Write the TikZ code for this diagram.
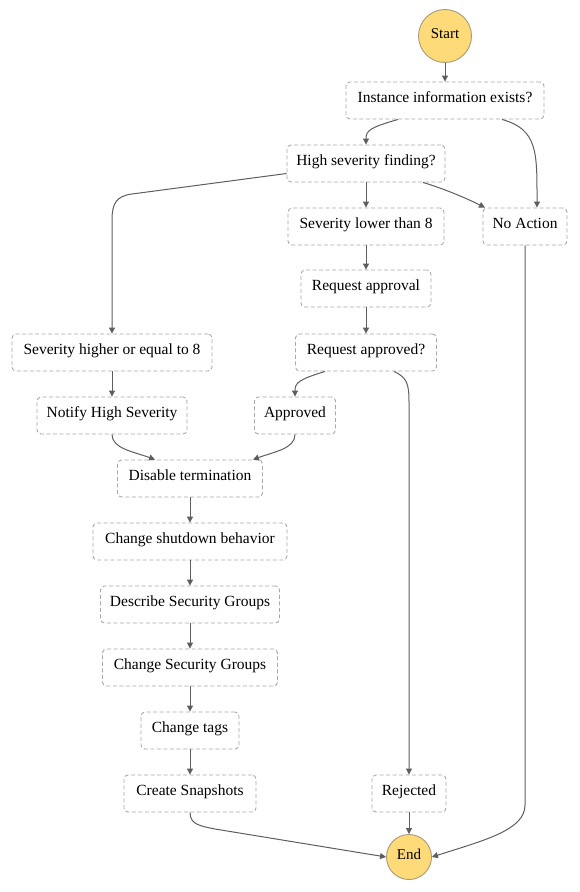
\documentclass[tikz,border=0pt]{standalone}
\usepackage{fontspec}
\setmainfont{Liberation Serif}
\usetikzlibrary{arrows.meta}
\definecolor{boxgray}{HTML}{A8A8A8}
\definecolor{linegray}{HTML}{5E5E5E}
\definecolor{termfill}{HTML}{FFDA78}
\definecolor{termborder}{HTML}{A8997A}
\begin{document}
\begin{tikzpicture}[x=1pt,y=-1pt,
  box/.style={draw=boxgray, line width=0.9pt, dash pattern=on 4pt off 2.5pt, rounded corners=4pt,
    minimum height=37pt, inner sep=0pt, text height=10pt, text depth=7pt, fill=white,
    font=\fontsize{15.5}{18}\selectfont},
  term/.style={circle, draw=termborder, line width=0.9pt, fill=termfill, inner sep=0pt,
    text height=10pt, text depth=5pt, font=\fontsize{15}{18}\selectfont},
  conn/.style={draw=linegray, line width=1pt, -{Triangle[length=6pt,width=6pt]}}]
\useasboundingbox (0,0) rectangle (579,892);

\node[term, minimum size=53pt] (start) at (445,36) {Start};
\node[box, minimum width=198pt] (inst) at (445,100.5) {Instance information exists?};
\node[box, minimum width=158pt] (hs) at (366,163.5) {High severity finding?};
\node[box, minimum width=156pt] (slt) at (366,226.5) {Severity lower than 8};
\node[box, minimum width=84pt] (na) at (525,226.5) {No Action};
\node[box, minimum width=130pt] (ra) at (366,288.5) {Request approval};
\node[box, minimum width=141pt] (rq) at (366,352.5) {Request approved?};
\node[box, minimum width=200pt] (sh) at (112,352.5) {Severity higher or equal to 8};
\node[box, minimum width=150pt] (nh) at (112,415.5) {Notify High Severity};
\node[box, minimum width=81pt] (ap) at (295,415.5) {Approved};
\node[box, minimum width=145pt] (dt) at (190,478.5) {Disable termination};
\node[box, minimum width=194pt] (cs) at (190,541.5) {Change shutdown behavior};
\node[box, minimum width=179pt] (ds) at (190,604.5) {Describe Security Groups};
\node[box, minimum width=175pt] (cg) at (190,667.5) {Change Security Groups};
\node[box, minimum width=98pt] (ct) at (190,730.5) {Change tags};
\node[box, minimum width=132pt] (sn) at (190,793.5) {Create Snapshots};
\node[box, minimum width=74pt] (rj) at (409,793.5) {Rejected};
\node[term, minimum size=45pt] (end) at (409,857) {End};

\coordinate (b1) at (132,194);
\coordinate (b2) at (112,220);
\coordinate (b3) at (409,402);
\coordinate (b4) at (525,805);
\coordinate (b5) at (215,829);

\draw[conn] (start) -- (inst);
\draw[conn] ([shift={(-47,0)}]inst.south) .. controls +(-28,8) and +(0,-14) .. (hs.north);
\draw[conn] ([shift={(57,0)}]inst.south) .. controls +(36,10) and +(0,-55) .. ([shift={(12,0)}]na.north);
\draw[conn] (hs) -- (slt);
\draw[conn] ([shift={(57,0)}]hs.south) .. controls +(20,6) and +(-20,-10) .. ([shift={(-40,0)}]na.north);
\draw[conn] ([shift={(0,10)}]hs.west) -- (b1) .. controls (116,196) and (112,204) .. (b2) -- (sh.north);
\draw[conn] (slt) -- (ra);
\draw[conn] (ra) -- (rq);
\draw[conn] ([shift={(-41,0)}]rq.south) .. controls +(-26,8) and +(0,-14) .. (ap.north);
\draw[conn] ([shift={(28,0)}]rq.south) .. controls +(13,6) and +(0,-18) .. (b3) -- (rj.north);
\draw[conn] (sh) -- (nh);
\draw[conn] (nh.south) .. controls +(0,14) and +(-22,-8) .. ([shift={(-35,0)}]dt.north);
\draw[conn] (ap.south) .. controls +(0,14) and +(22,-8) .. ([shift={(63,0)}]dt.north);
\draw[conn] (dt) -- (cs);
\draw[conn] (cs) -- (ds);
\draw[conn] (ds) -- (cg);
\draw[conn] (cg) -- (ct);
\draw[conn] (ct) -- (sn);
\draw[conn] (sn.south) .. controls +(0,12) and (200,826) .. (b5) -- (end.west);
\draw[conn] (rj) -- (end);
\draw[conn] (na.south) -- (b4) .. controls (525,830) and (485,840) .. (end.east);
\end{tikzpicture}
\end{document}
